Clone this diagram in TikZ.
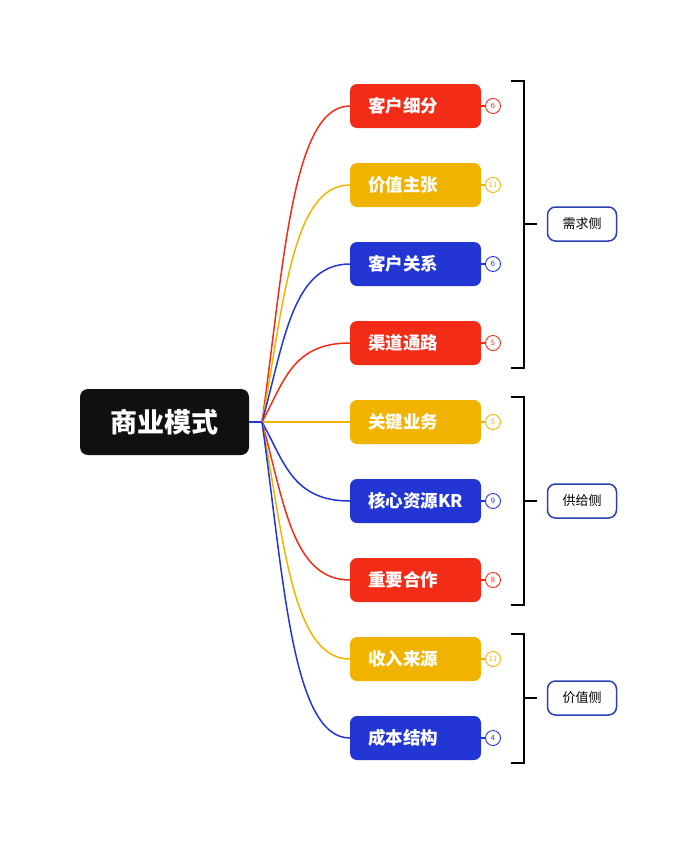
\documentclass[tikz,border=0pt]{standalone}
\usepackage{fontspec}
\newfontfamily\cjk{Noto Sans CJK SC}
\usetikzlibrary{positioning, calc}

\definecolor{mred}{HTML}{F22C17}
\definecolor{myellow}{HTML}{F0B400}
\definecolor{mblue}{HTML}{2236D4}
\definecolor{mframe}{HTML}{2A40B0}
\definecolor{mblack}{HTML}{101010}

\begin{document}
\begin{tikzpicture}[
  x=1pt,
  y=-1pt,
  root/.style={fill=mblack, rounded corners=8pt, minimum width=169pt, minimum height=66pt, text=white, font=\cjk\bfseries\fontsize{27}{30}\selectfont},
  topic/.style={rounded corners=7pt, minimum height=44pt, text width=95pt, align=left, inner xsep=18pt, text=white, font=\cjk\bfseries\fontsize{17.5}{20}\selectfont},
  count/.style={circle, draw, line width=0.9pt, minimum size=15pt, inner sep=0pt, font=\sffamily\fontsize{8}{9}\selectfont},
  side/.style={draw=mframe, line width=1.5pt, rounded corners=8pt, minimum width=69pt, minimum height=34pt, font=\cjk\fontsize{13}{15}\selectfont},
  branch/.style={line width=1.5pt},
  brace/.style={line width=1.5pt, black}
  ]
    % page
    \useasboundingbox (0,0) rectangle (697,844);

    % root
    \node[root] (biz) at (164.5,422) {商业模式};
    \coordinate (hub) at (262,422);
    \draw[branch, mblue] (biz.east) -- (hub);

% nine topics
\node[topic, fill=mred] (seg) at (415.5,106) {客户细分};
\node[topic, fill=myellow] (val) at (415.5,185) {价值主张};
\node[topic, fill=mblue] (rel) at (415.5,264) {客户关系};
\node[topic, fill=mred] (chn) at (415.5,343) {渠道通路};
\node[topic, fill=myellow] (act) at (415.5,422) {关键业务};
\node[topic, fill=mblue] (res) at (415.5,501) {核心资源KR};
\node[topic, fill=mred] (prt) at (415.5,580) {重要合作};
\node[topic, fill=myellow] (rev) at (415.5,659) {收入来源};
\node[topic, fill=mblue] (cst) at (415.5,738) {成本结构};

% curves hub -> topics
\draw[branch, mred] (hub) .. controls (284,264) and (292,106) .. (seg.west);
\draw[branch, myellow] (hub) .. controls (284,303) and (292,185) .. (val.west);
\draw[branch, mblue] (hub) .. controls (284,343) and (292,264) .. (rel.west);
\draw[branch, mred] (hub) .. controls (284,382) and (292,343) .. (chn.west);
\draw[branch, myellow] (hub) -- (act.west);
\draw[branch, mblue] (hub) .. controls (284,461) and (292,501) .. (res.west);
\draw[branch, mred] (hub) .. controls (284,501) and (292,580) .. (prt.west);
\draw[branch, myellow] (hub) .. controls (284,540) and (292,659) .. (rev.west);
\draw[branch, mblue] (hub) .. controls (284,580) and (292,738) .. (cst.west);

% counters
\node[count, draw=mred, text=mred] (nseg) at (493,106) {6};
\node[count, draw=myellow, text=myellow] (nval) at (493,185) {11};
\node[count, draw=mblue, text=mblue] (nrel) at (493,264) {6};
\node[count, draw=mred, text=mred] (nchn) at (493,343) {5};
\node[count, draw=myellow, text=myellow] (nact) at (493,422) {5};
\node[count, draw=mblue, text=mblue] (nres) at (493,501) {9};
\node[count, draw=mred, text=mred] (nprt) at (493,580) {8};
\node[count, draw=myellow, text=myellow] (nrev) at (493,659) {11};
\node[count, draw=mblue, text=mblue] (ncst) at (493,738) {4};

\draw[branch, mred] (seg.east) -- (nseg);
\draw[branch, myellow] (val.east) -- (nval);
\draw[branch, mblue] (rel.east) -- (nrel);
\draw[branch, mred] (chn.east) -- (nchn);
\draw[branch, myellow] (act.east) -- (nact);
\draw[branch, mblue] (res.east) -- (nres);
\draw[branch, mred] (prt.east) -- (nprt);
\draw[branch, myellow] (rev.east) -- (nrev);
\draw[branch, mblue] (cst.east) -- (ncst);

%%%%%%%%%% groups
% demand
\node[side] (dem) at (582,224) {需求侧};
\coordinate (demtop) at (511,81);
\coordinate (dembot) at (511,368);
\coordinate (demmid) at (524,224);
\draw[brace] (demtop) -- +(13,0) |- (dembot);
\draw[brace] (demmid) -- +(13,0);

% supply
\node[side] (sup) at (582,501) {供给侧};
\coordinate (suptop) at (511,397);
\coordinate (supbot) at (511,605);
\coordinate (supmid) at (524,501);
\draw[brace] (suptop) -- +(13,0) |- (supbot);
\draw[brace] (supmid) -- +(13,0);

% value
\node[side] (vls) at (582,698) {价值侧};
\coordinate (vlstop) at (511,634);
\coordinate (vlsbot) at (511,763);
\coordinate (vlsmid) at (524,698);
\draw[brace] (vlstop) -- +(13,0) |- (vlsbot);
\draw[brace] (vlsmid) -- +(13,0);

\end{tikzpicture}
\end{document}
